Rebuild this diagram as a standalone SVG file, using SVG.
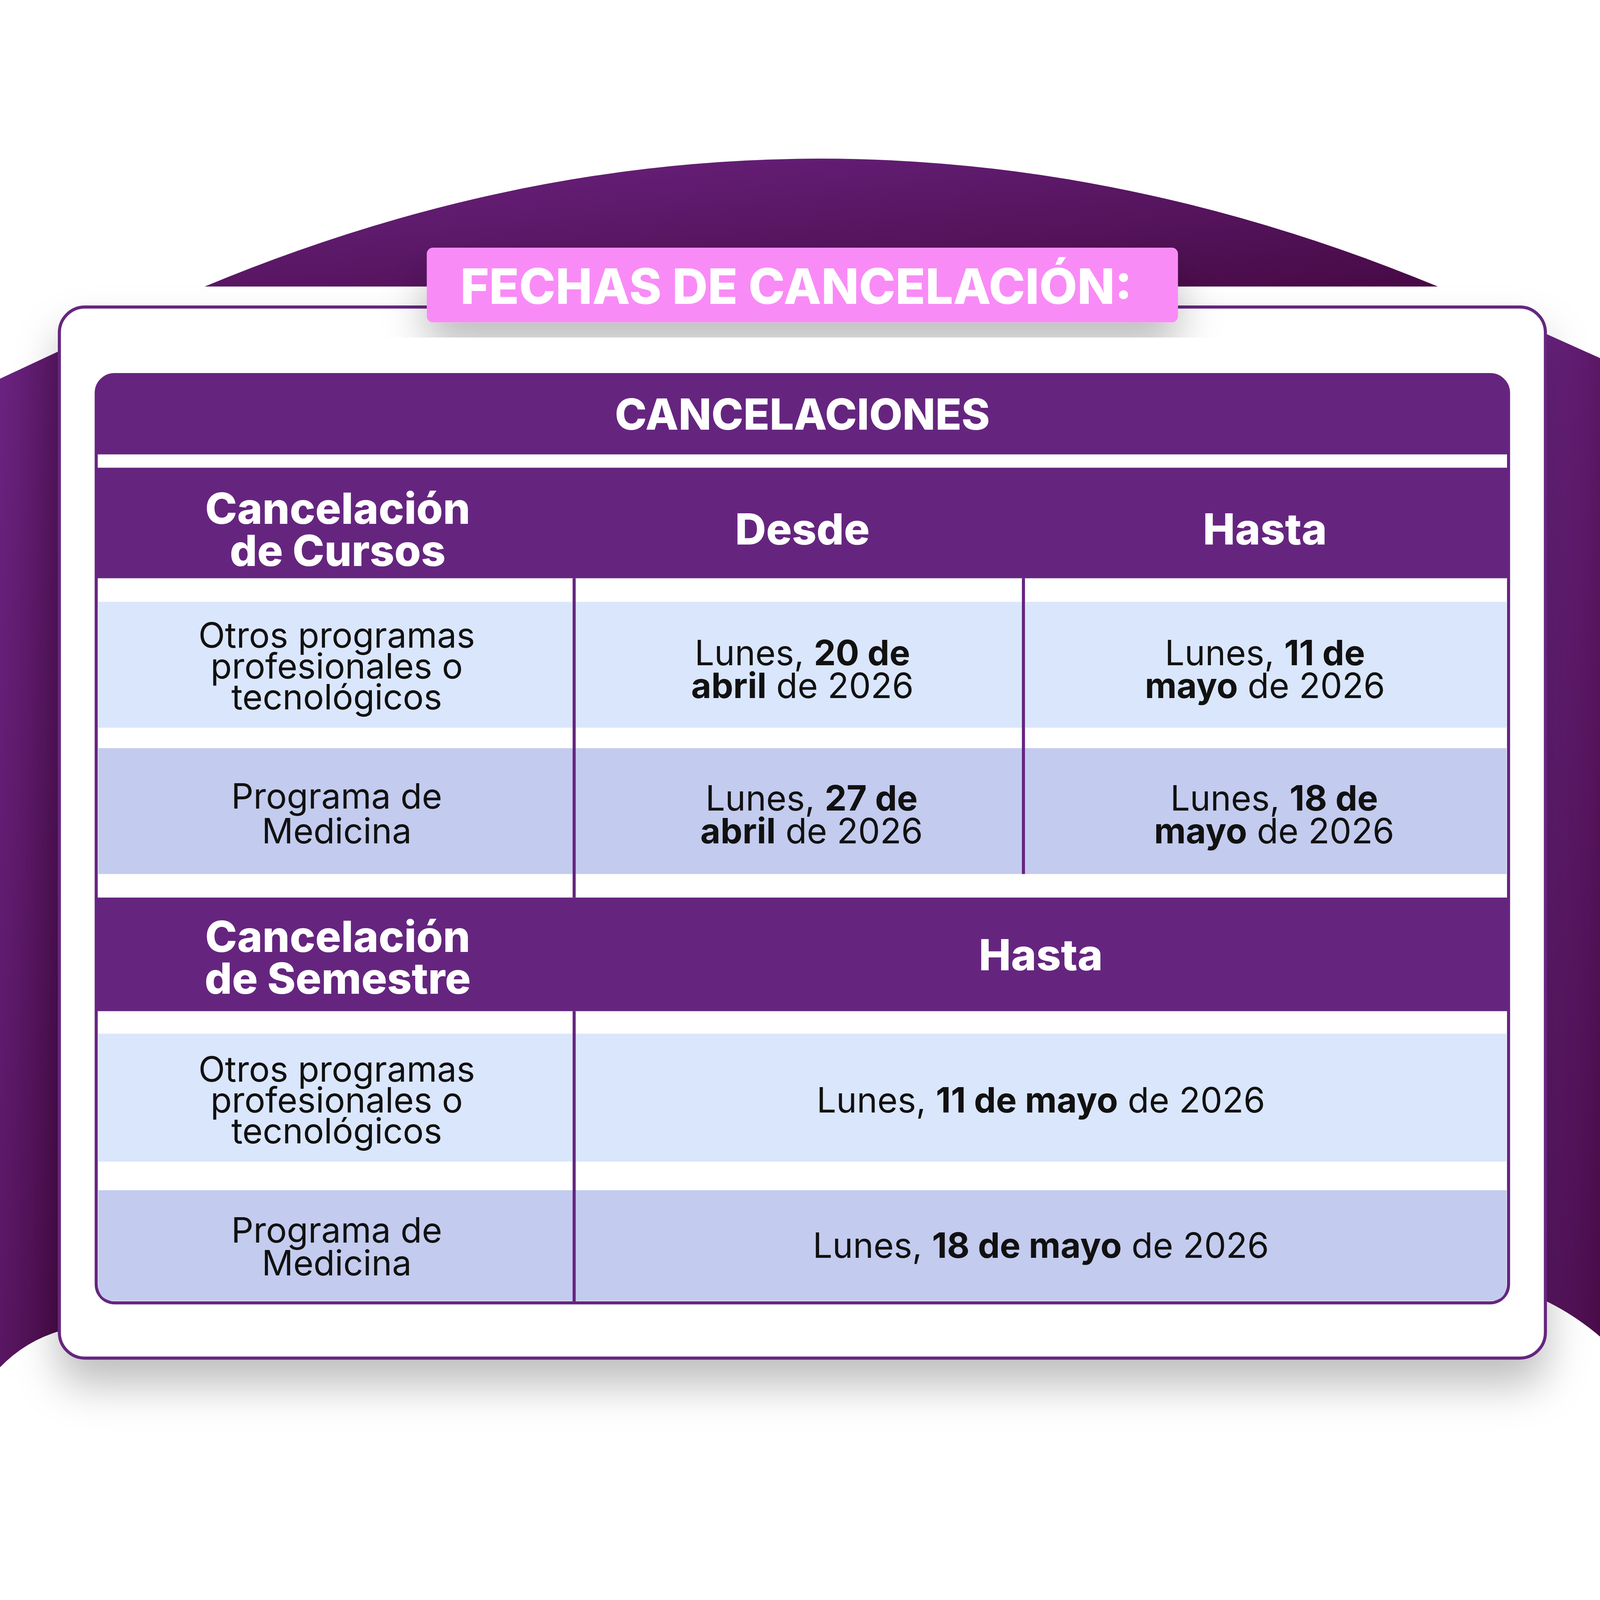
<svg xmlns="http://www.w3.org/2000/svg" width="4500" height="4500" viewBox="0 0 4500 4500">
<defs>
<linearGradient id="bg" x1="0" y1="0" x2="1" y2="1"><stop offset="0" stop-color="#6B2381"/><stop offset="1" stop-color="#470A45"/></linearGradient>
<filter id="sh" x="-10%" y="-10%" width="120%" height="130%"><feDropShadow dx="0" dy="25" stdDeviation="20" flood-color="#000" flood-opacity="0.25"/></filter>
<style>
.h{font-family:Inter,"Liberation Sans",sans-serif;font-weight:800;fill:#fff;text-anchor:middle}
.t{font-family:Inter,"Liberation Sans",sans-serif;font-weight:400;fill:#111;text-anchor:middle;font-size:34px}
.b{font-weight:700}
.hd{fill:#65257F}.l1{fill:#DAE6FC}.l2{fill:#C3CBEE}
.dv{stroke:#65257F;stroke-width:3}
</style>
</defs>
<rect width="4500" height="4500" fill="#fff"/>
<g transform="scale(2.62)">
<g id="background">
<path d="M200,280 Q800,30 1405,280 Z" fill="url(#bg)"/>
<path d="M0,370 L60,342 L60,1300 Q25,1310 0,1336 Z" fill="url(#bg)"/>
<path d="M1568,352 L1508,325 L1508,1270 Q1540,1285 1568,1310 Z" fill="url(#bg)"/>
</g>
<g id="card"><rect x="58" y="300" width="1452" height="1027" rx="25" fill="#fff" stroke="#65257F" stroke-width="3" filter="url(#sh)"/></g>
<g id="title">
<rect x="417" y="242" width="734" height="73" rx="6" fill="#F98BF6" filter="url(#sh)"/>
<text class="h" x="778" y="297" font-size="48">FECHAS DE CANCELACIÓN:</text>
</g>
<g id="table">
<rect x="94" y="366" width="1380" height="907" rx="18" fill="#fff" stroke="#65257F" stroke-width="3"/>
<path class="hd" d="M94,444 V384 Q94,366 112,366 H1456 Q1474,366 1474,384 V444 Z"/>
<rect class="hd" x="94" y="457" width="1380" height="108"/>
<rect class="l1" x="96" y="588" width="1376" height="123"/>
<rect class="l2" x="96" y="731" width="1376" height="123"/>
<rect class="hd" x="94" y="877" width="1380" height="111"/>
<rect class="l1" x="96" y="1010" width="1376" height="125"/>
<path class="l2" d="M96,1163 H1472 V1255 Q1472,1271 1456,1271 H112 Q96,1271 96,1255 Z"/>
<line class="dv" x1="561" y1="565" x2="561" y2="877"/>
<line class="dv" x1="1000" y1="565" x2="1000" y2="854"/>
<line class="dv" x1="561" y1="988" x2="561" y2="1273"/>
</g>
<g id="headers">
<text class="h" x="784" y="420" font-size="42">CANCELACIONES</text>
<text class="h" x="330" y="512" font-size="42">Cancelación</text>
<text class="h" x="330" y="553" font-size="42">de Cursos</text>
<text class="h" x="784" y="532" font-size="42">Desde</text>
<text class="h" x="1236" y="532" font-size="42">Hasta</text>
<text class="h" x="330" y="930" font-size="42">Cancelación</text>
<text class="h" x="330" y="971" font-size="42">de Semestre</text>
<text class="h" x="1017" y="948" font-size="42">Hasta</text>
</g>
<g id="cells">
<text class="t" x="329" y="633">Otros programas</text>
<text class="t" x="329" y="663">profesionales o</text>
<text class="t" x="329" y="693">tecnológicos</text>
<text class="t" x="784" y="650">Lunes, <tspan class="b">20 de</tspan></text>
<text class="t" x="784" y="682"><tspan class="b">abril</tspan> de 2026</text>
<text class="t" x="1236" y="650">Lunes, <tspan class="b">11 de</tspan></text>
<text class="t" x="1236" y="682"><tspan class="b">mayo</tspan> de 2026</text>
<text class="t" x="329" y="790">Programa de</text>
<text class="t" x="329" y="824">Medicina</text>
<text class="t" x="793" y="792">Lunes, <tspan class="b">27 de</tspan></text>
<text class="t" x="793" y="824"><tspan class="b">abril</tspan> de 2026</text>
<text class="t" x="1245" y="792">Lunes, <tspan class="b">18 de</tspan></text>
<text class="t" x="1245" y="824"><tspan class="b">mayo</tspan> de 2026</text>
<text class="t" x="329" y="1057">Otros programas</text>
<text class="t" x="329" y="1087">profesionales o</text>
<text class="t" x="329" y="1117">tecnológicos</text>
<text class="t" x="1017" y="1087">Lunes, <tspan class="b">11 de mayo</tspan> de 2026</text>
<text class="t" x="329" y="1214">Programa de</text>
<text class="t" x="329" y="1246">Medicina</text>
<text class="t" x="1017" y="1229" font-size="32">Lunes, <tspan class="b">18 de mayo</tspan> de 2026</text>
</g>
</g>
</svg>
